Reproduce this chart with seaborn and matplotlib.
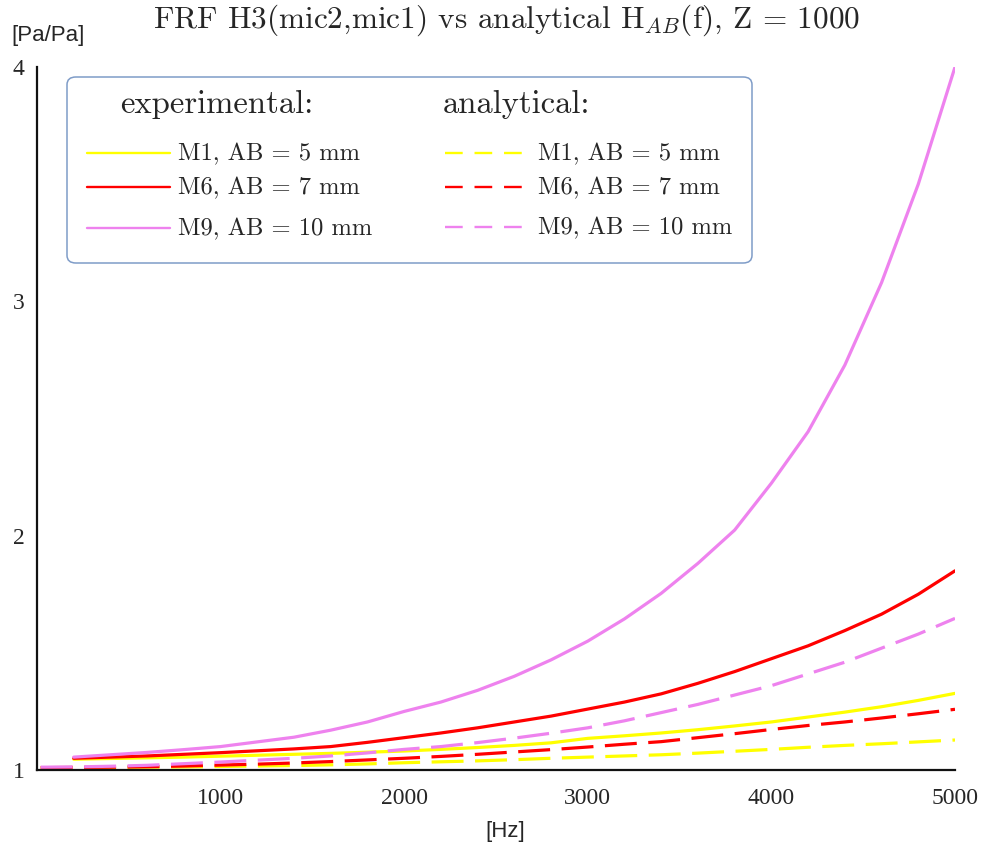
import numpy as np
import pandas as pd
import matplotlib
matplotlib.use("Agg")
import matplotlib.pyplot as plt
from matplotlib.patches import FancyBboxPatch
from matplotlib.lines import Line2D
import seaborn as sns

# Frequency grids [Hz]
freq_exp = [200, 400, 600, 800, 1000, 1200, 1400, 1600, 1800, 2000, 2200, 2400, 2600,
            2800, 3000, 3200, 3400, 3600, 3800, 4000, 4200, 4400, 4600, 4800, 5000]
freq_ana = [20] + freq_exp

# Experimental FRF H3(mic2, mic1) magnitude [Pa/Pa]
exp_m1 = [1.046, 1.049, 1.052, 1.055, 1.059, 1.063, 1.067, 1.071, 1.076, 1.081, 1.088, 1.096,
          1.105, 1.116, 1.135, 1.146, 1.158, 1.172, 1.188, 1.205, 1.226, 1.247, 1.270, 1.297, 1.327]
exp_m6 = [1.050, 1.055, 1.060, 1.067, 1.074, 1.082, 1.090, 1.100, 1.118, 1.138, 1.158, 1.180,
          1.205, 1.230, 1.260, 1.290, 1.325, 1.370, 1.420, 1.475, 1.530, 1.595, 1.665, 1.750, 1.850]
exp_m9 = [1.055, 1.065, 1.075, 1.087, 1.100, 1.120, 1.140, 1.170, 1.205, 1.250, 1.290, 1.340,
          1.400, 1.470, 1.550, 1.645, 1.754, 1.882, 2.024, 2.224, 2.444, 2.728, 3.080, 3.500, 4.000]

# Analytical H_AB(f) magnitude [Pa/Pa]
ana_m1 = [1.010, 1.010, 1.011, 1.012, 1.013, 1.015, 1.017, 1.019, 1.022, 1.026, 1.031, 1.035, 1.039,
          1.044, 1.050, 1.055, 1.060, 1.065, 1.072, 1.080, 1.088, 1.097, 1.105, 1.112, 1.120, 1.128]
ana_m6 = [1.010, 1.011, 1.012, 1.014, 1.017, 1.021, 1.025, 1.030, 1.036, 1.043, 1.050, 1.058, 1.067,
          1.077, 1.087, 1.098, 1.110, 1.121, 1.138, 1.155, 1.173, 1.190, 1.205, 1.222, 1.240, 1.259]
ana_m9 = [1.012, 1.013, 1.016, 1.020, 1.027, 1.034, 1.042, 1.050, 1.060, 1.073, 1.088, 1.100, 1.117,
          1.136, 1.157, 1.180, 1.210, 1.245, 1.280, 1.320, 1.360, 1.410, 1.460, 1.520, 1.580, 1.647]

labels = ["M1, AB = 5 mm", "M6, AB = 7 mm", "M9, AB = 10 mm"]
colors = ["#FFFF00", "#FF0000", "#EE82EE"]

frames = []
for lab, ye, ya in zip(labels, [exp_m1, exp_m6, exp_m9], [ana_m1, ana_m6, ana_m9]):
    frames.append(pd.DataFrame({"f": freq_exp, "H": ye, "series": lab, "kind": "experimental"}))
    frames.append(pd.DataFrame({"f": freq_ana, "H": ya, "series": lab, "kind": "analytical"}))
df = pd.concat(frames, ignore_index=True)

sns.set_style("white")
plt.rcParams["mathtext.fontset"] = "cm"
CM = "cmr10"  # Computer Modern roman shipped with matplotlib

W, H = 983, 852
fig = plt.figure(figsize=(W / 100, H / 100), dpi=100)
L, R, T, B = 37, 955, 67, 770
ax = fig.add_axes([L / W, 1 - B / H, (R - L) / W, (B - T) / H])

sns.lineplot(data=df, x="f", y="H", hue="series", style="kind",
             palette=dict(zip(labels, colors)),
             dashes={"experimental": "", "analytical": (10, 3.6)},
             hue_order=labels, style_order=["analytical", "experimental"],
             linewidth=2.3, legend=False, ax=ax, sort=False)

ax.set_xlim(0, 5000)
ax.set_ylim(1, 4)
ax.set_xticks([1000, 2000, 3000, 4000, 5000])
ax.set_yticks([1, 2, 3, 4])
ax.set_xticklabels(["1000", "2000", "3000", "4000", "5000"], family="Liberation Serif", fontsize=17)
ax.set_yticklabels(["1", "2", "3", "4"], family="Liberation Serif", fontsize=17)
ax.tick_params(axis="x", length=0, pad=13)
ax.tick_params(axis="y", length=0, pad=9)
ax.set_xlabel("")
ax.set_ylabel("")
for side in ["top", "right"]:
    ax.spines[side].set_visible(False)
for side in ["left", "bottom"]:
    ax.spines[side].set_color("#111111")
    ax.spines[side].set_linewidth(1.6)

fig.text(507 / W, 1 - 20 / H,
         r"FRF H3(mic2,mic1) vs analytical H$_{AB}$(f), Z = 1000",
         ha="center", va="center", fontsize=22.5, family=CM)
fig.text(48 / W, 1 - 35 / H, "[Pa/Pa]", ha="center", va="center",
         family="Liberation Sans", fontsize=16)
fig.text(505 / W, 1 - 832 / H, "[Hz]", ha="center", va="center",
         family="Liberation Sans", fontsize=16)


def fx(px):
    return px / W


def fy(py):
    return 1 - py / H


# Legend box with two columns
box = FancyBboxPatch((fx(67), fy(263)), fx(752) - fx(67), fy(77) - fy(263),
                     boxstyle="round,pad=0,rounding_size=0.009",
                     transform=fig.transFigure, facecolor="white",
                     edgecolor="#7F9CC8", linewidth=1.1, zorder=5)
fig.add_artist(box)

fig.text(fx(120), fy(104), "experimental:", ha="left", va="center",
         fontsize=23.5, family=CM, zorder=6)
fig.text(fx(443), fy(104), "analytical:", ha="left", va="center",
         fontsize=23.5, family=CM, zorder=6)

rows_exp = [153, 187, 228]
rows_ana = [153, 187, 227]
for lab, col, ye, ya in zip(labels, colors, rows_exp, rows_ana):
    fig.add_artist(Line2D([fx(87), fx(170)], [fy(ye), fy(ye)], color=col, lw=1.7,
                          transform=fig.transFigure, zorder=6))
    fig.text(fx(178), fy(ye + 1), lab, ha="left", va="center",
             fontsize=17.7, family=CM, zorder=6)
    fig.add_artist(Line2D([fx(445), fx(522)], [fy(ya), fy(ya)], color=col, lw=1.7,
                          dashes=(7.5, 5), transform=fig.transFigure, zorder=6))
    fig.text(fx(538), fy(ya + 1), lab, ha="left", va="center",
             fontsize=17.7, family=CM, zorder=6)

fig.savefig("out.png", dpi=100)
